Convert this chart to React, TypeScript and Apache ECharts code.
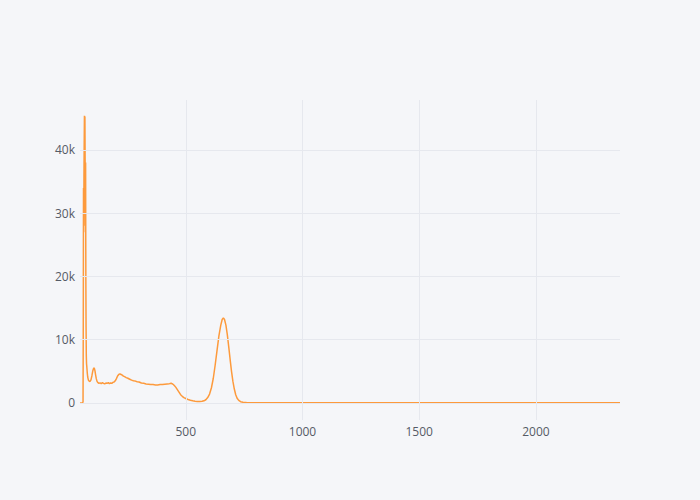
import React, { useEffect, useRef } from "react";
import * as echarts from "echarts";

const xValues: number[] = [
  47, 50, 54, 58, 60, 61, 62, 63, 64, 65, 66, 67, 68, 69, 70, 71, 72, 73, 74, 75,
  76, 78, 80, 83, 86, 90, 94, 98, 102, 105, 108, 111, 114, 117, 120, 124, 128, 133, 138, 143,
  148, 153, 158, 163, 168, 173, 178, 183, 188, 193, 198, 203, 208, 213, 218, 223, 228, 233, 238, 245,
  252, 260, 268, 276, 284, 292, 300, 310, 320, 330, 340, 350, 360, 370, 380, 390, 400, 410, 420, 430,
  437, 444, 450, 457, 464, 471, 478, 485, 492, 500, 510, 520, 530, 540, 550, 560, 570, 578, 586, 594,
  602, 610, 618, 626, 634, 642, 650, 656, 661, 666, 672, 678, 684, 690, 696, 702, 708, 714, 720, 727,
  735, 745, 760, 800, 900, 1000, 1200, 1400, 1600, 1800, 2000, 2200, 2360,
];

const yValues: number[] = [
  0, 0, 0, 0, 200, 12000, 34000, 27000, 36000, 41000, 45400, 44000, 45300, 38000, 28000, 38000, 20000, 12000, 7500, 6200,
  5800, 4800, 4100, 3600, 3450, 3400, 3650, 4300, 5100, 5450, 5550, 5100, 4400, 3800, 3400, 3200, 3100, 3180, 3050, 3200,
  3100, 3000, 3150, 3100, 3200, 3050, 3150, 3100, 3250, 3300, 3500, 3850, 4250, 4500, 4600, 4500, 4400, 4250, 4150, 4000,
  3900, 3750, 3600, 3500, 3450, 3350, 3300, 3150, 3100, 3000, 2950, 2900, 2900, 2850, 2850, 2900, 2900, 2950, 3000, 3050,
  3100, 3000, 2800, 2500, 2100, 1700, 1300, 1050, 850, 700, 550, 430, 330, 270, 230, 220, 250, 330, 500, 850,
  1400, 2400, 3900, 6000, 8300, 10600, 12300, 13200, 13450, 13200, 12300, 10800, 8900, 6900, 5000, 3400, 2200, 1300, 750, 400,
  200, 100, 60, 40, 30, 30, 25, 20, 20, 15, 15, 10, 10,
];

const xGridValues: number[] = [500, 1000, 1500, 2000];
const yGridValues: number[] = [0, 10000, 20000, 30000, 40000];

const X_MIN = 47;
const X_MAX = 2360;
const Y_MIN = -2700;
const Y_MAX = 47900;

export default function App() {
  const ref = useRef<HTMLDivElement>(null);

  useEffect(() => {
    document.body.style.margin = "0";
    if (!ref.current) return;
    const chart = echarts.init(ref.current, null, { renderer: "svg" });
    const data = xValues.map((x, i) => [x, yValues[i]]);
    const gridColor = "#e6e8ee";
    chart.setOption({
      animation: false,
      backgroundColor: "#f5f6f9",
      textStyle: { fontFamily: "Open Sans" },
      grid: { left: 80, right: 80, top: 100, bottom: 80, containLabel: false },
      xAxis: {
        type: "value",
        min: X_MIN,
        max: X_MAX,
        splitNumber: 5,
        axisLine: { show: false, onZero: false },
        axisTick: { show: false },
        axisLabel: {
          color: "#555b66",
          fontSize: 12,
          fontFamily: "Open Sans",
          margin: 5,
          showMinLabel: false,
          showMaxLabel: false,
          formatter: (v: number) => String(v),
        },
        splitLine: { show: false },
      },
      yAxis: {
        type: "value",
        min: Y_MIN,
        max: Y_MAX,
        splitNumber: 5,
        axisLine: { show: false },
        axisTick: { show: false },
        axisLabel: {
          color: "#555b66",
          fontSize: 12,
          fontFamily: "Open Sans",
          margin: 5,
          showMinLabel: false,
          showMaxLabel: false,
          formatter: (v: number) => (v === 0 ? "0" : v / 1000 + "k"),
        },
        splitLine: { show: false },
      },
      series: [
        {
          type: "line",
          data: [],
          silent: true,
          z: 1,
          markLine: {
            silent: true,
            symbol: "none",
            animation: false,
            label: { show: false },
            lineStyle: { color: gridColor, width: 1, type: "solid" },
            emphasis: { disabled: true },
            data: [
              ...xGridValues.map((v) => ({ xAxis: v })),
              ...yGridValues.map((v) => ({ yAxis: v })),
            ],
          },
        },
        {
          type: "line",
          data,
          z: 3,
          showSymbol: false,
          symbol: "none",
          lineStyle: { color: "#fd9a3c", width: 1.5 },
          itemStyle: { color: "#fd9a3c" },
        },
      ],
    });
    return () => chart.dispose();
  }, []);

  return <div ref={ref} style={{ width: 700, height: 500 }} />;
}
